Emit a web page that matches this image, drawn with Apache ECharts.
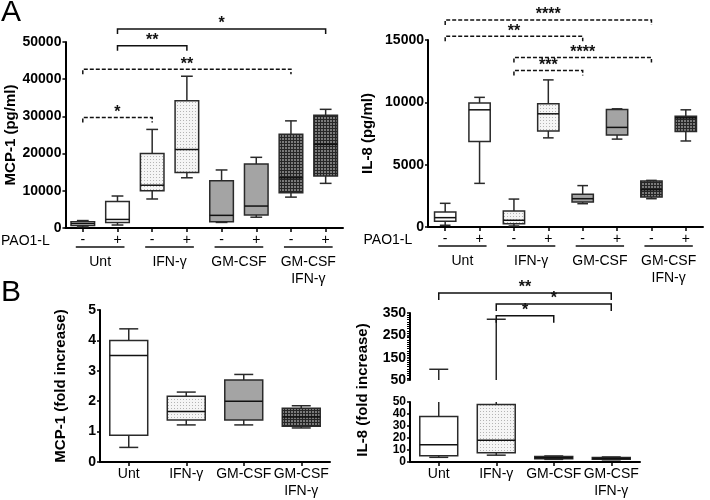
<!DOCTYPE html>
<html lang="en">
<head>
<meta charset="UTF-8">
<title>MCP-1 / IL-8 boxplots</title>
<script src="https://cdn.jsdelivr.net/npm/echarts@6/dist/echarts.min.js"></script>
<style>
  html, body { margin: 0; padding: 0; background: #fff; }
  #main { width: 710px; height: 500px; }
</style>
</head>
<body>
<div id="main"></div>
<script>
// ---- data ----
const groupsA = ['Unt', 'IFN-γ', 'GM-CSF', 'GM-CSF\nIFN-γ'];
const paoA = ['-', '+', '-', '+', '-', '+', '-', '+'];
const groupsB = ['Unt', 'IFN-γ', 'GM-CSF', 'GM-CSF\nIFN-γ'];

// [min, q1, median, q3, max]
const mcp1 = [
    [300, 700, 1200, 1700, 2000],
    [800, 1500, 2300, 7100, 8600],
    [7800, 10000, 11500, 20000, 26500],
    [13500, 14900, 21100, 34200, 40800],
    [1500, 1700, 3400, 12700, 15600],
    [2900, 3500, 5900, 17200, 19000],
    [8300, 9500, 13500, 25200, 28800],
    [12000, 14000, 22500, 30300, 31900]
];
const il8 = [
    [140, 460, 750, 1200, 1900],
    [3500, 6850, 9400, 9950, 10400],
    [80, 270, 540, 1280, 2240],
    [7150, 7700, 9080, 9880, 11800],
    [1870, 2000, 2270, 2620, 3320],
    [7050, 7370, 7990, 9430, 9480],
    [2270, 2400, 3000, 3680, 3740],
    [6900, 7670, 8760, 8890, 9400]
];
const mcp1Fold = [
    [0.48, 0.88, 3.5, 4.0, 4.38],
    [1.22, 1.38, 1.66, 2.16, 2.3],
    [1.22, 1.38, 2.0, 2.7, 2.88],
    [1.12, 1.18, 1.48, 1.77, 1.85]
];
const il8Fold = [
    [3.9, 5.2, 14.3, 38, 98],
    [5.7, 7.8, 18.2, 47.9, 322],
    [2.2, 2.7, 3.5, 4.5, 5.0],
    [1.8, 2.3, 3.0, 3.8, 4.2]
];

// significance brackets: [fromIndex, toIndex, height, label, line]
const mcp1Sig = [
    [1, 7, 53500, '*', 'solid'],
    [1, 3, 49000, '**', 'solid'],
    [0, 6, 42700, '**', 'dashed'],
    [0, 2, 29700, '*', 'dashed']
];
const il8Sig = [
    [0, 6, 16600, '****', 'dashed'],
    [0, 4, 15300, '**', 'dashed'],
    [2, 6, 13600, '****', 'dashed'],
    [2, 4, 12550, '***', 'dashed']
];
const il8FoldSig = [
    [0, 3, 440, '**', 'solid'],
    [1, 3, 390, '*', 'solid'],
    [1, 2, 338, '*', 'solid']
];

// ---- helpers ----
const FONT = "'Liberation Sans', Arial, sans-serif";

function makePattern(bg, fg, size, cells) {
    const c = document.createElement('canvas');
    c.width = c.height = size;
    const ctx = c.getContext('2d');
    ctx.fillStyle = bg;
    ctx.fillRect(0, 0, size, size);
    ctx.fillStyle = fg;
    cells.forEach(r => ctx.fillRect(r[0], r[1], r[2], r[3]));
    return { image: c, repeat: 'repeat' };
}
const dotted = makePattern('#f5f5f5', '#b4b4b4', 3, [[0, 0, 1, 1]]);
const hatch = makePattern('#262626', '#7a7a7a', 3, [[0, 0, 2, 2]]);
const fills = ['#ffffff', dotted, '#a4a4a4', hatch];

function rows(arr) {
    return arr.map((d, i) => [i].concat(d));
}

// whiskersOnly: used for the upper part of the broken axis
function boxRender(fillOf, ratio, whiskersOnly) {
    return function (params, api) {
        const i = api.value(0);
        const x = api.coord([i, 0])[0];
        const bw = api.size([1, 0])[0] * ratio;
        const y = k => api.coord([i, api.value(k)])[1];
        const yMin = y(1), yQ1 = y(2), yMed = y(3), yQ3 = y(4), yMax = y(5);
        const cap = bw / 4;
        const ls = { stroke: '#2a2a2a', lineWidth: 1.5 };
        const children = [
            { type: 'line', shape: { x1: x, y1: yQ3, x2: x, y2: yMax }, style: ls },
            { type: 'line', shape: { x1: x - cap, y1: yMax, x2: x + cap, y2: yMax }, style: ls }
        ];
        if (!whiskersOnly) {
            children.push(
                { type: 'line', shape: { x1: x, y1: yQ1, x2: x, y2: yMin }, style: ls },
                { type: 'line', shape: { x1: x - cap, y1: yMin, x2: x + cap, y2: yMin }, style: ls },
                {
                    type: 'rect',
                    shape: { x: x - bw / 2, y: yQ3, width: bw, height: yQ1 - yQ3 },
                    style: { fill: fillOf(i), stroke: '#2a2a2a', lineWidth: 1.5 }
                },
                { type: 'line', shape: { x1: x - bw / 2, y1: yMed, x2: x + bw / 2, y2: yMed }, style: { stroke: '#111', lineWidth: 1.5 } }
            );
        }
        return { type: 'group', children: children };
    };
}

function sigRender(list, tick) {
    return function (params, api) {
        const d = list[params.dataIndex];
        const p1 = api.coord([api.value(0), api.value(2)]);
        const p2 = api.coord([api.value(1), api.value(2)]);
        return {
            type: 'group',
            children: [
                {
                    type: 'polyline',
                    shape: { points: [[p1[0], p1[1] + tick], p1, p2, [p2[0], p2[1] + tick]] },
                    style: { fill: 'none', stroke: '#111', lineWidth: 1.5, lineDash: d[4] === 'dashed' ? [4, 2] : null }
                },
                {
                    type: 'text',
                    x: (p1[0] + p2[0]) / 2, y: p1[1] + 3,
                    style: { text: d[3], fill: '#111', font: 'bold 16px ' + FONT, align: 'center', verticalAlign: 'bottom' }
                }
            ]
        };
    };
}

function underlineRender(params, api) {
    const a = api.coord([api.value(0), 0]);
    const b = api.coord([api.value(1), 0]);
    return {
        type: 'line',
        shape: { x1: a[0] - 7, y1: a[1] + 19, x2: b[0] + 7, y2: b[1] + 19 },
        style: { stroke: '#111', lineWidth: 1.5 }
    };
}

const pairs = groupsA.map((g, k) => [2 * k, 2 * k + 1]);

const axisLineStyle = { show: true, lineStyle: { color: '#000', width: 2 } };
const tickLabel = {
    color: '#000', fontSize: 14, fontWeight: 'bold', fontFamily: FONT, margin: 4,
    showMinLabel: true, showMaxLabel: true, hideOverlap: false,
    formatter: v => String(v)
};
const catLabel = { color: '#000', fontSize: 14, fontFamily: FONT, lineHeight: 17, margin: 4, interval: 0 };
const yName = { color: '#000', fontSize: 15, fontWeight: 'bold', fontFamily: FONT };

function valueAxis(grid, min, max, interval, name, gap, extra) {
    return Object.assign({
        type: 'value', gridIndex: grid, min: min, max: max, interval: interval,
        axisLine: axisLineStyle,
        axisTick: { show: true, length: 3, lineStyle: { color: '#000', width: 1.5 } },
        axisLabel: tickLabel,
        splitLine: { show: false },
        name: name, nameLocation: 'middle', nameGap: gap, nameTextStyle: yName
    }, extra || {});
}

function catAxis(grid, data, extra) {
    return Object.assign({
        type: 'category', gridIndex: grid, data: data,
        axisLine: axisLineStyle,
        axisTick: { show: true, alignWithLabel: true, length: 4, lineStyle: { color: '#000', width: 1.5 } },
        axisLabel: catLabel
    }, extra || {});
}

function groupAxis(grid, data) {
    return {
        type: 'category', gridIndex: grid, data: data, position: 'bottom', offset: 23,
        axisLine: { show: false }, axisTick: { show: false },
        axisLabel: Object.assign({}, catLabel, { margin: 3 })
    };
}

const paoName = {
    name: 'PAO1-L', nameLocation: 'start', nameGap: 4,
    nameTextStyle: { color: '#000', fontSize: 14, fontFamily: FONT, align: 'right', verticalAlign: 'top', padding: [6, 0, 0, 0] }
};

const chart = echarts.init(document.getElementById('main'));

const option = {
    animation: false,
    backgroundColor: '#fff',
    title: [
        { text: 'A', left: 1, top: -2, padding: 0, textStyle: { fontSize: 30, fontWeight: 'normal', color: '#000', fontFamily: FONT } },
        { text: 'B', left: 1, top: 278, padding: 0, textStyle: { fontSize: 30, fontWeight: 'normal', color: '#000', fontFamily: FONT } }
    ],
    grid: [
        { left: 63, top: 42, width: 280, height: 186 },
        { left: 428, top: 40, width: 275, height: 187 },
        { left: 100, top: 310, width: 230, height: 152 },
        { left: 410, top: 313, width: 230, height: 67 },
        { left: 410, top: 402, width: 230, height: 65 },
        { left: 410, top: 313, width: 230, height: 154 }
    ],
    xAxis: [
        catAxis(0, paoA, paoName),
        groupAxis(0, groupsA),
        catAxis(1, paoA, paoName),
        groupAxis(1, groupsA),
        catAxis(2, groupsB),
        catAxis(3, groupsB, { show: false }),
        catAxis(4, groupsB),
        catAxis(5, groupsB, { show: false })
    ],
    yAxis: [
        valueAxis(0, 0, 50000, 10000, 'MCP-1 (pg/ml)', 43),
        valueAxis(1, 0, 15000, 5000, 'IL-8 (pg/ml)', 53),
        valueAxis(2, 0, 5, 1, 'MCP-1 (fold increase)', 32),
        valueAxis(3, 50, 350, 100, '', 0, {
            minorTick: { show: true, splitNumber: 10, length: 3, lineStyle: { color: '#000', width: 1 } }
        }),
        valueAxis(4, 0, 50, 10, '', 0, {
            axisLabel: Object.assign({}, tickLabel, { fontSize: 12, lineHeight: 11 })
        }),
        valueAxis(5, 0, 1, 1, 'IL-8 (fold increase)', 40, {
            axisLine: { show: false }, axisTick: { show: false }, axisLabel: { show: false }
        })
    ],
    series: [
        // A: MCP-1
        {
            type: 'custom', xAxisIndex: 0, yAxisIndex: 0, data: rows(mcp1),
            encode: { x: 0, y: [1, 2, 3, 4, 5] },
            renderItem: boxRender(i => fills[Math.floor(i / 2)], 0.68)
        },
        {
            type: 'custom', xAxisIndex: 0, yAxisIndex: 0, data: mcp1Sig.map(d => d.slice(0, 3)),
            encode: { x: [0, 1], y: 2 }, clip: false,
            renderItem: sigRender(mcp1Sig, 5)
        },
        {
            type: 'custom', xAxisIndex: 0, yAxisIndex: 0, data: pairs,
            encode: { x: [0, 1] }, clip: false, renderItem: underlineRender
        },
        // A: IL-8
        {
            type: 'custom', xAxisIndex: 2, yAxisIndex: 1, data: rows(il8),
            encode: { x: 0, y: [1, 2, 3, 4, 5] },
            renderItem: boxRender(i => fills[Math.floor(i / 2)], 0.62)
        },
        {
            type: 'custom', xAxisIndex: 2, yAxisIndex: 1, data: il8Sig.map(d => d.slice(0, 3)),
            encode: { x: [0, 1], y: 2 }, clip: false,
            renderItem: sigRender(il8Sig, 5)
        },
        {
            type: 'custom', xAxisIndex: 2, yAxisIndex: 1, data: pairs,
            encode: { x: [0, 1] }, clip: false, renderItem: underlineRender
        },
        // B: MCP-1 fold
        {
            type: 'custom', xAxisIndex: 4, yAxisIndex: 2, data: rows(mcp1Fold),
            encode: { x: 0, y: [1, 2, 3, 4, 5] },
            renderItem: boxRender(i => fills[i], 0.66)
        },
        // B: IL-8 fold, broken axis (upper and lower part)
        {
            type: 'custom', xAxisIndex: 5, yAxisIndex: 3, data: rows(il8Fold),
            encode: { x: 0, y: [1, 2, 3, 4, 5] }, clip: true,
            renderItem: boxRender(i => fills[i], 0.66, true)
        },
        {
            type: 'custom', xAxisIndex: 6, yAxisIndex: 4, data: rows(il8Fold),
            encode: { x: 0, y: [1, 2, 3, 4, 5] }, clip: true,
            renderItem: boxRender(i => fills[i], 0.66)
        },
        {
            type: 'custom', xAxisIndex: 5, yAxisIndex: 3, data: il8FoldSig.map(d => d.slice(0, 3)),
            encode: { x: [0, 1], y: 2 }, clip: false,
            renderItem: sigRender(il8FoldSig, 7)
        }
    ]
};

chart.setOption(option);
</script>
</body>
</html>
